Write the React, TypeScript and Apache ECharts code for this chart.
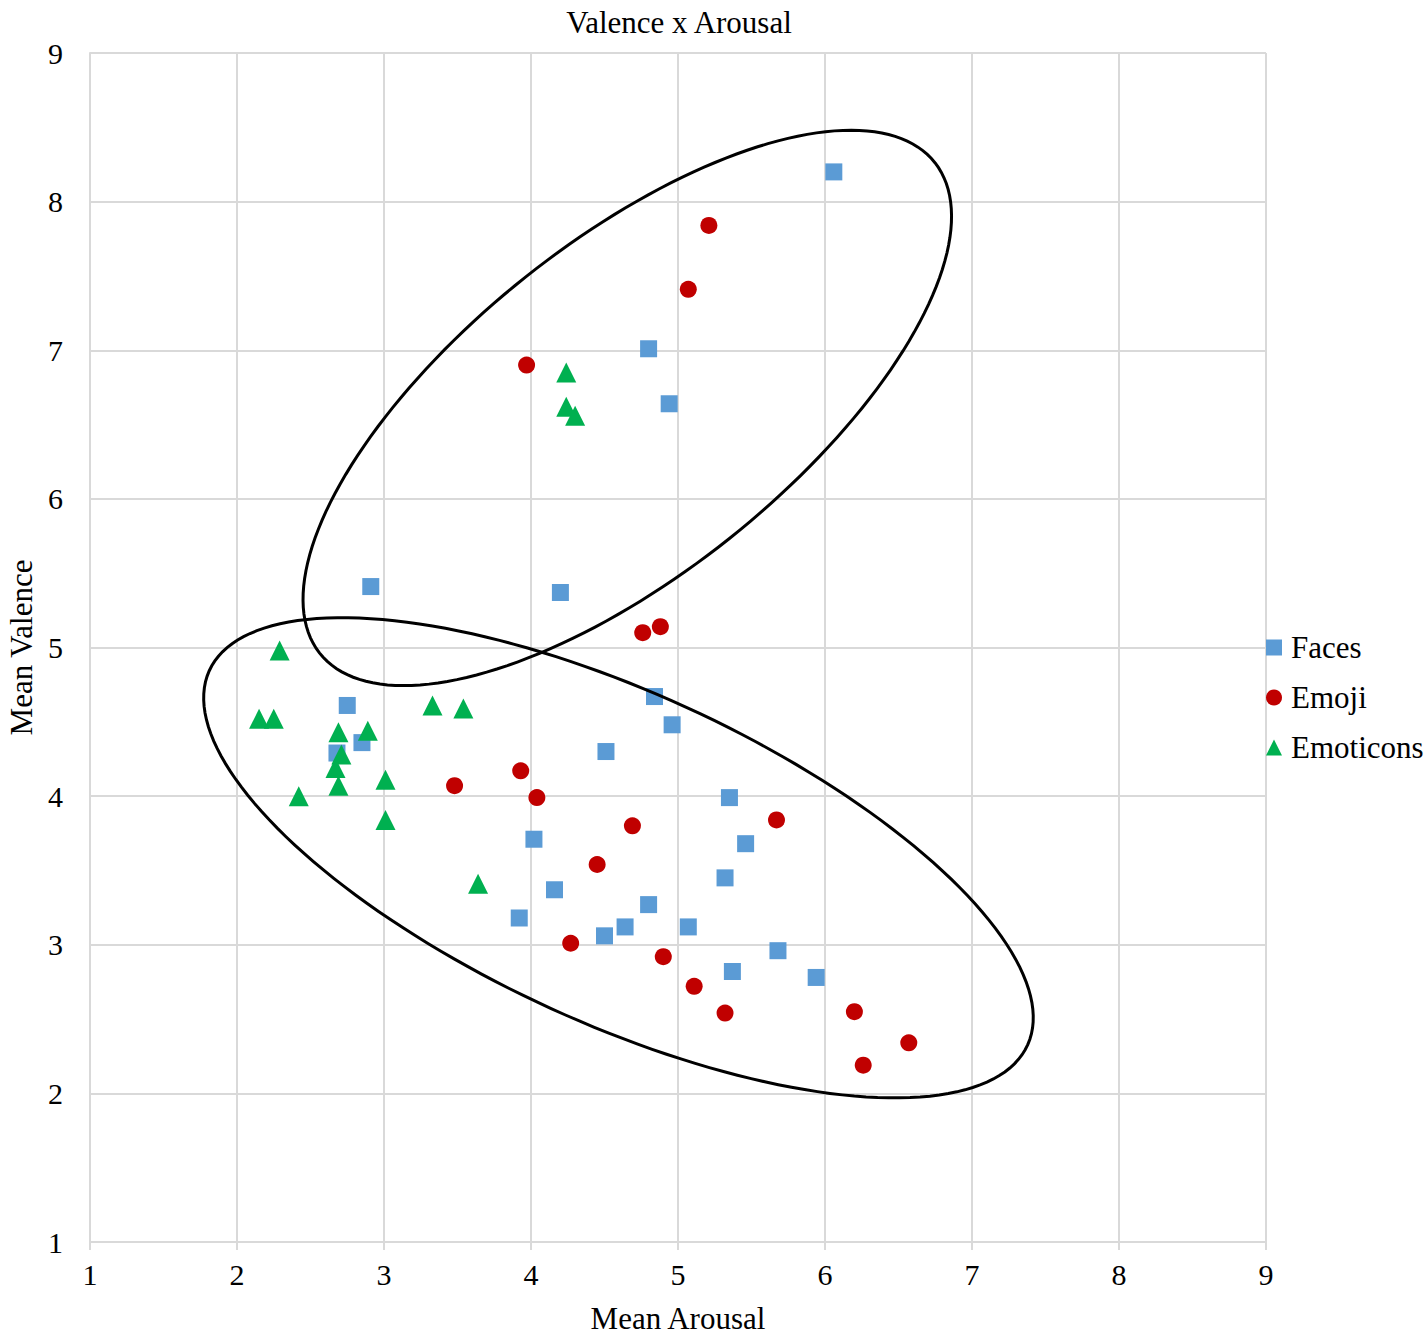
import React, { useEffect, useRef } from "react";
import * as echarts from "echarts";

// Tick values
const axisTicks = [1, 2, 3, 4, 5, 6, 7, 8, 9];

// Faces (blue squares)
const facesX = [6.06, 4.8, 4.94, 2.91, 4.2, 2.75, 4.84, 4.96, 4.51, 2.85, 2.68, 5.35, 4.02, 5.46, 5.32, 4.16, 4.8, 3.92, 4.5, 4.64, 5.07, 5.68, 5.37, 5.94];
const facesY = [8.2, 7.01, 6.64, 5.41, 5.37, 4.61, 4.67, 4.48, 4.3, 4.36, 4.29, 3.99, 3.71, 3.68, 3.45, 3.37, 3.27, 3.18, 3.06, 3.12, 3.12, 2.96, 2.82, 2.78];

// Emoji (red circles)
const emojiX = [5.21, 5.07, 3.97, 4.76, 4.88, 3.93, 3.48, 4.04, 4.69, 5.67, 4.45, 4.27, 4.9, 5.11, 5.32, 6.2, 6.57, 6.26];
const emojiY = [7.84, 7.41, 6.9, 5.1, 5.14, 4.17, 4.07, 3.99, 3.8, 3.84, 3.54, 3.01, 2.92, 2.72, 2.54, 2.55, 2.34, 2.19];

// Emoticons (green triangles)
const emoticonsX = [2.29, 2.15, 2.25, 2.69, 2.89, 3.33, 3.54, 2.71, 2.67, 2.69, 3.01, 2.42, 3.01, 3.64, 4.24, 4.24, 4.3];
const emoticonsY = [4.98, 4.52, 4.52, 4.43, 4.44, 4.61, 4.59, 4.28, 4.19, 4.07, 4.11, 4.0, 3.84, 3.41, 6.85, 6.62, 6.56];

// Annotation ellipses: centerX, centerY, semi-axis a, semi-axis b, angle (deg), in data units
const ellipseCX = [4.655, 4.595];
const ellipseCY = [6.612, 3.585];
const ellipseA = [2.665, 3.055];
const ellipseB = [1.12, 1.113];
const ellipseAngle = [38.2, -24.3];

const FONT = '"Liberation Serif", "Times New Roman", serif';

function zip(xs: number[], ys: number[]) {
  return xs.map((x, i) => [x, ys[i]]);
}

export default function App() {
  const ref = useRef<HTMLDivElement>(null);
  useEffect(() => {
    if (!ref.current) return;
    const chart = echarts.init(ref.current, null, { renderer: "svg" });
    const ellipseData = ellipseCX.map((cx, i) => [cx, ellipseCY[i], ellipseA[i], ellipseB[i], ellipseAngle[i]]);
    const option: any = {
      animation: false,
      backgroundColor: "#ffffff",
      title: {
        text: "Valence x Arousal",
        left: 674,
        textAlign: "center",
        top: 2,
        textStyle: { fontFamily: FONT, fontSize: 31, fontWeight: "normal", color: "#000" },
      },
      grid: { left: 90, right: 161, top: 53, bottom: 96, containLabel: false, outerBoundsMode: "none" },
      legend: {
        orient: "vertical",
        left: 1266,
        top: 632,
        padding: 0,
        itemGap: 19,
        itemWidth: 16,
        itemHeight: 16,
        data: ["Faces", "Emoji", "Emoticons"],
        textStyle: { fontFamily: FONT, fontSize: 31, color: "#000", lineHeight: 31, padding: [0, 0, 0, 4] },
      },
      xAxis: {
        type: "value",
        min: axisTicks[0],
        max: axisTicks[axisTicks.length - 1],
        interval: 1,
        name: "Mean Arousal",
        nameLocation: "middle",
        nameGap: 61,
        nameTextStyle: { fontFamily: FONT, fontSize: 31, color: "#000" },
        axisLine: { show: true, lineStyle: { color: "#d9d9d9", width: 2 } },
        axisTick: { show: true, length: 8, lineStyle: { color: "#d9d9d9", width: 2 } },
        axisLabel: { fontFamily: FONT, fontSize: 30, color: "#000", margin: 17 },
        splitLine: { show: true, lineStyle: { color: "#d9d9d9", width: 2 } },
      },
      yAxis: {
        type: "value",
        min: axisTicks[0],
        max: axisTicks[axisTicks.length - 1],
        interval: 1,
        name: "Mean Valence",
        nameLocation: "middle",
        nameGap: 48,
        nameRotate: 90,
        nameTextStyle: { fontFamily: FONT, fontSize: 31, color: "#000" },
        axisLine: { show: true, lineStyle: { color: "#d9d9d9", width: 2 } },
        axisTick: { show: false },
        axisLabel: { fontFamily: FONT, fontSize: 30, color: "#000", margin: 27 },
        splitLine: { show: true, lineStyle: { color: "#d9d9d9", width: 2 } },
      },
      series: [
        {
          name: "Faces",
          type: "scatter",
          symbol: "rect",
          symbolSize: 17,
          itemStyle: { color: "#5b9bd5", opacity: 1 },
          data: zip(facesX, facesY),
          z: 2,
        },
        {
          name: "Emoji",
          type: "scatter",
          symbol: "circle",
          symbolSize: 17,
          itemStyle: { color: "#c00000", opacity: 1 },
          data: zip(emojiX, emojiY),
          z: 3,
        },
        {
          name: "Emoticons",
          type: "scatter",
          symbol: "triangle",
          symbolSize: 20,
          itemStyle: { color: "#00b050", opacity: 1 },
          data: zip(emoticonsX, emoticonsY),
          z: 4,
        },
        {
          name: "ellipses",
          type: "custom",
          silent: true,
          clip: false,
          z: 5,
          encode: { x: 0, y: 1 },
          data: ellipseData,
          renderItem: (params: any, api: any) => {
            const cx = api.value(0);
            const cy = api.value(1);
            const a = api.value(2);
            const b = api.value(3);
            const ang = (api.value(4) * Math.PI) / 180;
            const pts: number[][] = [];
            const N = 180;
            for (let i = 0; i < N; i++) {
              const t = (2 * Math.PI * i) / N;
              const dx = a * Math.cos(t);
              const dy = b * Math.sin(t);
              const x = cx + dx * Math.cos(ang) - dy * Math.sin(ang);
              const y = cy + dx * Math.sin(ang) + dy * Math.cos(ang);
              pts.push(api.coord([x, y]));
            }
            return {
              type: "polygon",
              shape: { points: pts },
              style: { fill: "none", stroke: "#000", lineWidth: 3 },
            };
          },
        },
      ],
    };
    chart.setOption(option);
    return () => chart.dispose();
  }, []);
  return (
    <div
      ref={ref}
      style={{ position: "fixed", left: 0, top: 0, width: 1427, height: 1338, background: "#fff" }}
    />
  );
}
